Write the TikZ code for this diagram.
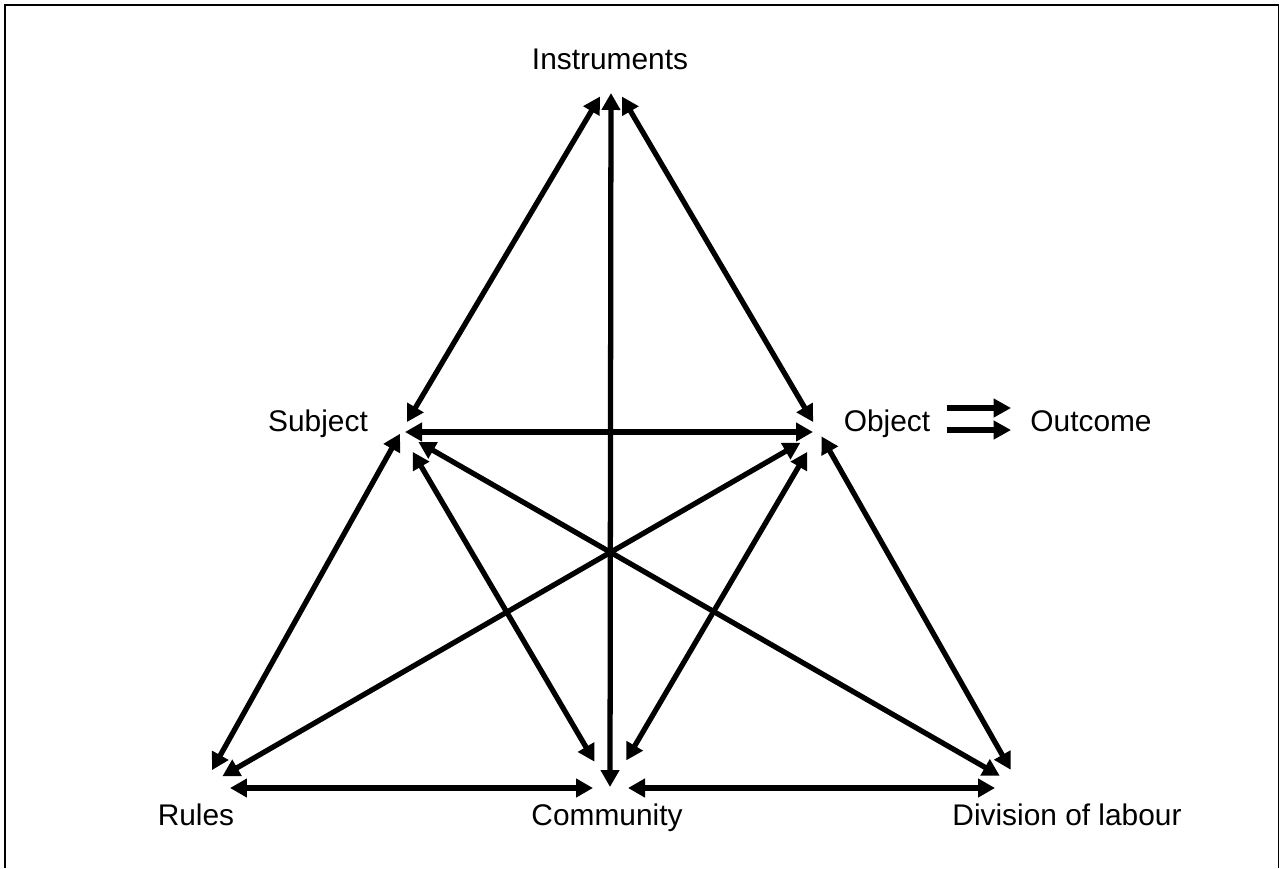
\documentclass[tikz,border=0pt]{standalone}
\usepackage{fontspec}
\setmainfont{Liberation Sans}
\usetikzlibrary{arrows.meta, positioning}
\tikzset{
  elem/.style={font=\fontsize{17}{20}\selectfont, inner sep=0pt, anchor=base},
  arr/.style={{Triangle[length=3.4mm,width=3.6mm]}-{Triangle[length=3.4mm,width=3.6mm]}, line width=3pt},
  outarr/.style={-{Triangle[length=3.5mm,width=3.6mm]}, line width=3.8pt},
  gap/.style 2 args={shorten <=#1, shorten >=#2},
}

\begin{document}
\begin{tikzpicture}[x=0.02cm, y=-0.02cm]
  \useasboundingbox (0,0) rectangle (1280,868);
  \draw[line width=1.1pt] (5,868) |- (1278.5,5) -- (1278.5,868);

  % element names
  \node[elem] (instr) at (610,70) {Instruments};
  \node[elem] (subj) at (318,431) {Subject};
  \node[elem] (obj) at (887,431) {Object};
  \node[elem] (outc) at (1091,431) {Outcome};
  \node[elem] (rules) at (196,825) {Rules};
  \node[elem] (comm) at (607,825) {Community};
  \node[elem] (dol) at (1067,825) {Division of labour};

  % meeting points of the arrows
  \coordinate (I) at (611,78);
  \coordinate (S) at (401,432);
  \coordinate (O) at (819,432);
  \coordinate (R) at (202,788);
  \coordinate (C) at (610,788);
  \coordinate (D) at (1021,788);

  \draw[arr, gap={0.43cm}{0.23cm}] (I) -- (S);
  \draw[arr, gap={0.43cm}{0.23cm}] (I) -- (O);
  \draw[arr, gap={0.30cm}{0.02cm}] (I) -- (C);
  \draw[arr, gap={0.08cm}{0.12cm}] (S) -- (O);
  \draw[arr, gap={0.04cm}{0.41cm}] (S) -- (R);
  \draw[arr, gap={0.46cm}{0.61cm}] (S) -- (C);
  \draw[arr, gap={0.40cm}{0.49cm}] (S) -- (D);
  \draw[arr, gap={0.43cm}{0.47cm}] (O) -- (R);
  \draw[arr, gap={0.46cm}{0.64cm}] (O) -- (C);
  \draw[arr, gap={0.10cm}{0.42cm}] (O) -- (D);
  \draw[arr, gap={0.56cm}{0.34cm}] (R) -- (C);
  \draw[arr, gap={0.36cm}{0.52cm}] (C) -- (D);

  \draw[outarr, gap={0.32cm}{0.38cm}] ([yshift=0.46cm]obj.base east) -- ([yshift=0.46cm]outc.base west);
  \draw[outarr, gap={0.32cm}{0.38cm}] ([yshift=0.02cm]obj.base east) -- ([yshift=0.02cm]outc.base west);
\end{tikzpicture}
\end{document}
